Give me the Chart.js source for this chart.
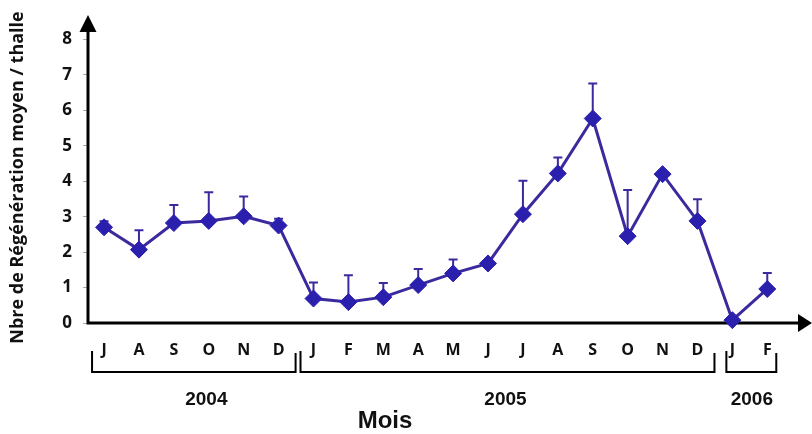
<!DOCTYPE html>
<html>
<head>
<meta charset="utf-8">
<script src="https://cdn.jsdelivr.net/npm/chart.js@4.4.1/dist/chart.umd.min.js"></script>
<style>
  html, body { margin: 0; padding: 0; background: #fff; }
  #wrap { width: 812px; height: 434px; }
</style>
</head>
<body>
<div id="wrap"><canvas id="chart" width="812" height="434"></canvas></div>
<script>
// months Jul 2004 -> Feb 2006
const months = ['J','A','S','O','N','D','J','F','M','A','M','J','J','A','S','O','N','D','J','F'];
const means  = [2.70, 2.07, 2.82, 2.88, 3.01, 2.75, 0.69, 0.59, 0.73, 1.07, 1.40, 1.68, 3.07, 4.22, 5.77, 2.45, 4.20, 2.88, 0.08, 0.96];
const errUp  = [0.17, 0.55, 0.51, 0.81, 0.56, 0.19, 0.45, 0.76, 0.40, 0.45, 0.39, 0.00, 0.94, 0.45, 0.99, 1.30, 0.00, 0.61, 0.00, 0.45];
const years  = ['2004', '2005', '2006'];
const yearFirst = [0, 6, 18];
const yearLast  = [5, 17, 19];
const yTicks = [0, 1, 2, 3, 4, 5, 6, 7, 8];

const LINE = '#3b2a9e';
const MARK = '#2b1fae';

// layout bits (pixels)
const bracketPad = [[12, 17], [13, 17], [6, 9]];
const yearShift = [15, 0, 2];

const decor = {
  id: 'decor',
  beforeDatasetsDraw(chart){
    const ctx = chart.ctx, x = chart.scales.x, y = chart.scales.y;
    const a = chart.chartArea;
    const x0 = a.left, y0 = y.getPixelForValue(0);
    ctx.save();
    // axes
    ctx.strokeStyle = '#000'; ctx.fillStyle = '#000'; ctx.lineWidth = 3;
    ctx.beginPath();
    ctx.moveTo(x0, y0 + 1.5); ctx.lineTo(x0, a.top);
    ctx.moveTo(x0 - 1.5, y0); ctx.lineTo(a.right, y0);
    ctx.stroke();
    ctx.beginPath();
    ctx.moveTo(x0 - 8.5, a.top); ctx.lineTo(x0 + 8.5, a.top); ctx.lineTo(x0, a.top - 17); ctx.closePath();
    ctx.fill();
    ctx.beginPath();
    ctx.moveTo(a.right, y0 - 9); ctx.lineTo(a.right, y0 + 9); ctx.lineTo(a.right + 14, y0); ctx.closePath();
    ctx.fill();
    // error bars (upper only)
    ctx.strokeStyle = LINE; ctx.lineWidth = 2;
    means.forEach((m, i) => {
      if(!errUp[i]) return;
      const px = x.getPixelForValue(i);
      const top = y.getPixelForValue(m + errUp[i]);
      ctx.beginPath();
      ctx.moveTo(px, y.getPixelForValue(m)); ctx.lineTo(px, top);
      ctx.moveTo(px - 4.5, top); ctx.lineTo(px + 4.5, top);
      ctx.stroke();
    });
    ctx.restore();
  },
  afterDraw(chart){
    const ctx = chart.ctx, x = chart.scales.x;
    ctx.save();
    ctx.strokeStyle = '#000'; ctx.lineWidth = 2;
    years.forEach((yr, k) => {
      const l = x.getPixelForValue(yearFirst[k]) - bracketPad[k][0];
      const r = x.getPixelForValue(yearLast[k]) + bracketPad[k][1];
      ctx.beginPath();
      ctx.moveTo(l, 351); ctx.lineTo(l, 372); ctx.lineTo(r, 372); ctx.lineTo(r, 353);
      ctx.stroke();
      const mid = (x.getPixelForValue(yearFirst[k]) + x.getPixelForValue(yearLast[k])) / 2 + yearShift[k];
      ctx.fillStyle = '#111';
      ctx.font = 'bold 19px "Liberation Sans", Arial, sans-serif';
      ctx.textAlign = 'center'; ctx.textBaseline = 'middle';
      ctx.fillText(yr, mid, 400);
    });
    ctx.font = 'bold 24px "Liberation Sans", Arial, sans-serif';
    ctx.fillText('Mois', 385, 421);
    ctx.restore();
  }
};

new Chart(document.getElementById('chart'), {
  type: 'line',
  data: {
    datasets: [{
      data: means.map((v, i) => ({ x: i, y: v })),
      borderColor: LINE,
      borderWidth: 3,
      pointStyle: 'rectRot',
      pointRadius: 8.5,
      pointBackgroundColor: MARK,
      pointBorderColor: MARK,
      pointBorderWidth: 1,
      tension: 0,
      clip: false
    }]
  },
  options: {
    responsive: false,
    animation: false,
    devicePixelRatio: 1,
    layout: { padding: { left: 0, right: 14, top: 32, bottom: 0 } },
    plugins: { legend: { display: false }, tooltip: { enabled: false } },
    scales: {
      x: {
        type: 'linear',
        min: -0.46, max: 19.88,
        afterBuildTicks: s => { s.ticks = months.map((_, i) => ({ value: i })); },
        afterFit: s => { s.height = 111; },
        grid: { display: false, drawTicks: false },
        border: { display: false },
        ticks: {
          autoSkip: false, maxRotation: 0, padding: 18,
          color: '#111',
          font: { family: '"Open Sans", sans-serif', weight: 'bold', size: 16 },
          callback: v => months[v]
        }
      },
      y: {
        min: 0, max: 8.21,
        afterBuildTicks: s => { s.ticks = yTicks.map(v => ({ value: v })); },
        afterFit: s => { s.width = 88; },
        grid: { drawOnChartArea: false, drawTicks: true, tickLength: 5, color: '#aaa' },
        border: { display: false },
        ticks: {
          padding: 11, color: '#111',
          font: { family: '"Open Sans", sans-serif', weight: 'bold', size: 17 }
        },
        title: {
          display: true,
          text: 'Nbre de Régénération moyen / thalle',
          color: '#111',
          padding: { top: 7, bottom: 0 },
          font: { family: '"Open Sans", sans-serif', weight: 'bold', size: 18 }
        }
      }
    }
  },
  plugins: [decor]
});
</script>
</body>
</html>
